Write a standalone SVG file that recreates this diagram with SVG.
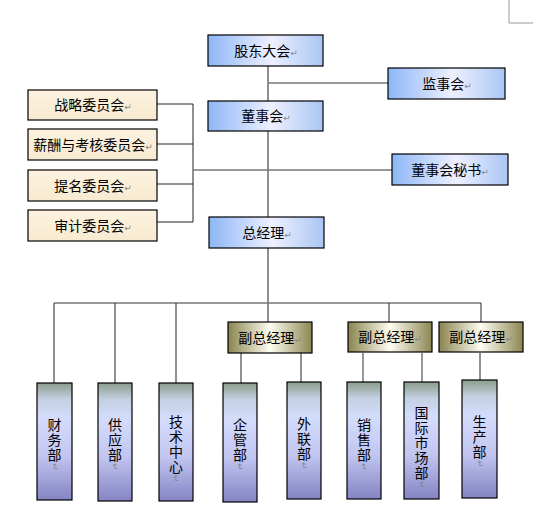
<svg xmlns="http://www.w3.org/2000/svg" width="539" height="516" viewBox="0 0 539 516">
<defs>
<linearGradient id="gBlue" x1="0" y1="0" x2="1" y2="0">
<stop offset="0" stop-color="#8db6f6"/>
<stop offset="0.55" stop-color="#eef0ff"/>
<stop offset="1" stop-color="#aac6f4"/>
</linearGradient>
<linearGradient id="gOlive" x1="0" y1="0" x2="1" y2="0">
<stop offset="0" stop-color="#8a8450"/>
<stop offset="0.5" stop-color="#fdfdf2"/>
<stop offset="1" stop-color="#8c8652"/>
</linearGradient>
<linearGradient id="gCream" x1="0" y1="0" x2="0" y2="1">
<stop offset="0" stop-color="#fcf2df"/>
<stop offset="1" stop-color="#f8ead0"/>
</linearGradient>
<linearGradient id="gDept" x1="0" y1="0" x2="0" y2="1">
<stop offset="0" stop-color="#8c9c8a"/>
<stop offset="0.14" stop-color="#c4d0e2"/>
<stop offset="0.3" stop-color="#d4dcfc"/>
<stop offset="0.62" stop-color="#c2c6f0"/>
<stop offset="1" stop-color="#8484c4"/>
</linearGradient>
</defs>
<style>
.bx{stroke:#000;stroke-width:1.2}
.blue{fill:url(#gBlue)}
.olive{fill:url(#gOlive)}
.cream{fill:url(#gCream)}
.dept{fill:url(#gDept)}
text{font-family:"Noto Sans CJK SC","Liberation Sans",sans-serif;font-size:14px;fill:#000}
.v{writing-mode:vertical-rl;letter-spacing:1px}
.m{font-family:"DejaVu Sans",sans-serif;font-size:9px;fill:#888}
.c{fill:none;stroke:#222;stroke-width:1}
.g{fill:none;stroke:#777;stroke-width:1.5}
</style>
<rect width="539" height="516" fill="#fff"/>
<path d="M509 0V23H533" fill="none" stroke="#999" stroke-width="1"/>
<g id="connectors">
<path class="c" d="M268 66V101"/>
<path class="g" d="M268 83H388"/>
<path class="c" d="M268 131V217"/>
<path class="c" d="M157 104H193M157 144H193M157 184H193M157 222H193M193 104V222"/>
<path class="g" d="M193 170H392"/>
<path class="c" d="M268 248V322"/>
<path class="g" d="M54 303H481"/>
<path class="c" d="M54 303V383M115 303V383M176 303V383M389 303V322M481 303V322"/>
<path class="c" d="M241 353V383M301 353V382"/>
<path class="g" d="M363 353V382M422 353V382"/>
<path class="c" d="M480 353V380"/>
</g>
<g id="n-gudong"><rect class="bx blue" x="208" y="35" width="115" height="31"/><text x="266" y="56" text-anchor="middle">股东大会<tspan class="m">↵</tspan></text></g>
<g id="n-jianshi"><rect class="bx blue" x="388" y="68" width="117" height="31"/><text x="447" y="89" text-anchor="middle">监事会<tspan class="m">↵</tspan></text></g>
<g id="n-dongshi"><rect class="bx blue" x="208" y="101" width="115" height="30"/><text x="266" y="121" text-anchor="middle">董事会<tspan class="m">↵</tspan></text></g>
<g id="n-mishu"><rect class="bx blue" x="392" y="154" width="116" height="31"/><text x="450" y="175" text-anchor="middle">董事会秘书<tspan class="m">↵</tspan></text></g>
<g id="n-zonglue"><rect class="bx cream" x="28" y="90" width="129" height="30"/><text x="93" y="110" text-anchor="middle">战略委员会<tspan class="m">↵</tspan></text></g>
<g id="n-xinchou"><rect class="bx cream" x="28" y="129" width="129" height="31"/><text x="93" y="150" text-anchor="middle">薪酬与考核委员会<tspan class="m">↵</tspan></text></g>
<g id="n-timing"><rect class="bx cream" x="28" y="170" width="129" height="31"/><text x="93" y="191" text-anchor="middle">提名委员会<tspan class="m">↵</tspan></text></g>
<g id="n-shenji"><rect class="bx cream" x="28" y="210" width="129" height="31"/><text x="93" y="231" text-anchor="middle">审计委员会<tspan class="m">↵</tspan></text></g>
<g id="n-zongjingli"><rect class="bx blue" x="209" y="217" width="115" height="31"/><text x="267" y="238" text-anchor="middle">总经理<tspan class="m">↵</tspan></text></g>
<g id="n-fu1"><rect class="bx olive" x="228" y="322" width="84" height="31"/><text x="270" y="343" text-anchor="middle">副总经理<tspan class="m">↵</tspan></text></g>
<g id="n-fu2"><rect class="bx olive" x="348" y="322" width="84" height="30"/><text x="390" y="342" text-anchor="middle">副总经理<tspan class="m">↵</tspan></text></g>
<g id="n-fu3"><rect class="bx olive" x="439" y="322" width="84" height="30"/><text x="481" y="342" text-anchor="middle">副总经理<tspan class="m">↵</tspan></text></g>
<g id="n-caiwu"><rect class="bx dept" x="37" y="383" width="35" height="117"/><text class="v" x="54.5" y="418">财务部<tspan class="m">↵</tspan></text></g>
<g id="n-gongying"><rect class="bx dept" x="98" y="383" width="34" height="118"/><text class="v" x="115" y="418">供应部<tspan class="m">↵</tspan></text></g>
<g id="n-jishu"><rect class="bx dept" x="159" y="383" width="34" height="118"/><text class="v" x="176" y="415">技术中心<tspan class="m">↵</tspan></text></g>
<g id="n-qiguan"><rect class="bx dept" x="223" y="383" width="34" height="119"/><text class="v" x="240" y="418">企管部<tspan class="m">↵</tspan></text></g>
<g id="n-wailian"><rect class="bx dept" x="287" y="382" width="34" height="117"/><text class="v" x="304" y="417">外联部<tspan class="m">↵</tspan></text></g>
<g id="n-xiaoshou"><rect class="bx dept" x="347" y="382" width="34" height="117"/><text class="v" x="364" y="418">销售部<tspan class="m">↵</tspan></text></g>
<g id="n-guoji"><rect class="bx dept" x="404" y="382" width="35" height="117"/><text class="v" x="421.5" y="406">国际市场部<tspan class="m">↵</tspan></text></g>
<g id="n-shengchan"><rect class="bx dept" x="462" y="380" width="35" height="118"/><text class="v" x="479.5" y="415">生产部<tspan class="m">↵</tspan></text></g>
</svg>
